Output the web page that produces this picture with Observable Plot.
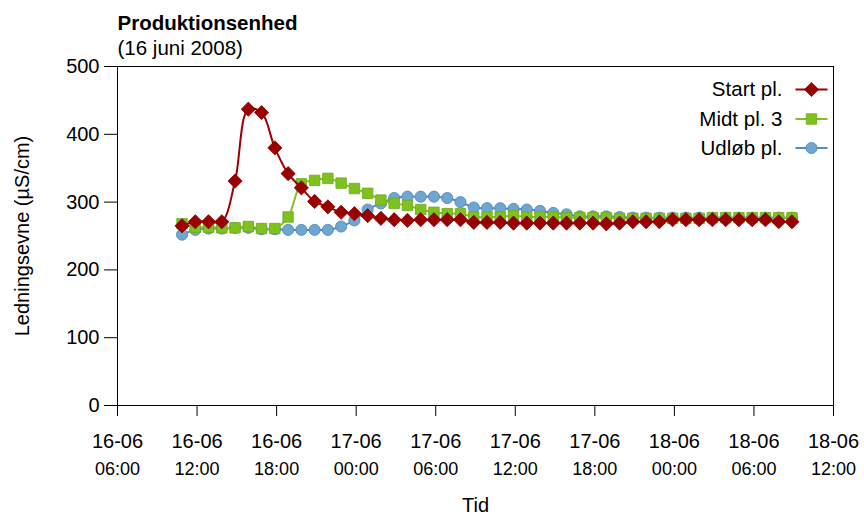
<!DOCTYPE html>
<html>
<head>
<meta charset="utf-8">
<script src="https://cdn.jsdelivr.net/npm/d3@7"></script>
<script src="https://cdn.jsdelivr.net/npm/@observablehq/plot@0.6"></script>
<style>
  html, body { margin: 0; padding: 0; background: #fff; }
  #chart svg { display: block; }
</style>
</head>
<body>
<div id="chart"></div>
<script>
// ---- Data ----
const title = "Produktionsenhed";
const subtitle = "(16 juni 2008)";
const yLabel = "Ledningsevne (µS/cm)";
const xLabel = "Tid";

const times = [
  "2008-06-16T10:52","2008-06-16T11:52","2008-06-16T12:52","2008-06-16T13:52","2008-06-16T14:52",
  "2008-06-16T15:52","2008-06-16T16:52","2008-06-16T17:52","2008-06-16T18:52","2008-06-16T19:52",
  "2008-06-16T20:52","2008-06-16T21:52","2008-06-16T22:52","2008-06-16T23:52",
  "2008-06-17T00:52","2008-06-17T01:52","2008-06-17T02:52","2008-06-17T03:52","2008-06-17T04:52",
  "2008-06-17T05:52","2008-06-17T06:52","2008-06-17T07:52","2008-06-17T08:52","2008-06-17T09:52",
  "2008-06-17T10:52","2008-06-17T11:52","2008-06-17T12:52","2008-06-17T13:52","2008-06-17T14:52",
  "2008-06-17T15:52","2008-06-17T16:52","2008-06-17T17:52","2008-06-17T18:52","2008-06-17T19:52",
  "2008-06-17T20:52","2008-06-17T21:52","2008-06-17T22:52","2008-06-17T23:52",
  "2008-06-18T00:52","2008-06-18T01:52","2008-06-18T02:52","2008-06-18T03:52","2008-06-18T04:52",
  "2008-06-18T05:52","2008-06-18T06:52","2008-06-18T07:52","2008-06-18T08:52"
];

const startPl = [265, 271, 271, 271, 331, 437, 432, 380, 342, 321, 301, 293, 285, 283, 280, 276,
  274, 273, 274, 274, 274, 274, 270, 270, 270, 269, 269, 269, 269, 269, 269, 269,
  268, 269, 271, 271, 271, 274, 274, 274, 274, 274, 274, 274, 274, 271, 271];

const midtPl3 = [268, 263, 263, 262, 262, 264, 261, 261, 278, 327, 332, 335, 328, 320, 313, 303,
  298, 295, 289, 285, 283, 283, 278, 278, 278, 280, 278, 278, 278, 277, 277, 277,
  277, 276, 276, 276, 276, 276, 276, 276, 277, 277, 277, 277, 277, 277, 277];

const udlobPl = [252, 259, 261, 261, 262, 262, 260, 260, 259, 259, 259, 259, 264, 273, 289, 298,
  306, 308, 308, 308, 306, 300, 292, 291, 291, 290, 289, 287, 284, 282, 279, 279,
  279, 278, 277, 277, 277, 277, 277, 277, 277, 277, 277, 277, 277, 277, 277];

const seriesNames = ["Start pl.", "Midt pl. 3", "Udløb pl."];
const xDomain = ["2008-06-16T06:00", "2008-06-18T12:00"];
const yTicks = [0, 100, 200, 300, 400, 500];

// ---- Styles ----
const styles = {
  "Start pl.":  {values: startPl, line: "#9e0000", fill: "#990000", stroke: "#8a0000", symbol: "diamond2", r: 6.4},
  "Midt pl. 3": {values: midtPl3, line: "#80c31f", fill: "#7fc21e", stroke: "#6eaa1a", symbol: "square", r: 5.9},
  "Udløb pl.":  {values: udlobPl, line: "#4f8ec4", fill: "#6fa6d0", stroke: "#4a87bd", symbol: "circle", r: 5.6}
};

const parse = s => new Date(s + ":00Z");
const x0 = parse(xDomain[0]), x1 = parse(xDomain[1]);
const xTicks = d3.utcHour.every(6).range(x0, new Date(+x1 + 1));

const lineSymbol = {draw(ctx) { ctx.moveTo(-16, 0); ctx.lineTo(16, 0); }};

const marks = [];
// draw order: blue, green, red
for (const name of ["Udløb pl.", "Midt pl. 3", "Start pl."]) {
  const s = styles[name];
  const rows = times.map((t, i) => ({t: parse(t), v: s.values[i]}));
  marks.push(Plot.line(rows, {x: "t", y: "v", stroke: s.line, strokeWidth: 2, curve: "catmull-rom"}));
  marks.push(Plot.dot(rows, {x: "t", y: "v", symbol: s.symbol, r: s.r, fill: s.fill, stroke: s.stroke, strokeWidth: 0.8}));
}

// legend
const legendDy = [23, 52.5, 81.5];
seriesNames.forEach((name, i) => {
  const s = styles[name];
  marks.push(Plot.text([name], {frameAnchor: "top-right", dx: -51, dy: legendDy[i], text: d => d, textAnchor: "end", lineAnchor: "middle", fontSize: 20.5, fill: "#000"}));
  marks.push(Plot.dot([name], {frameAnchor: "top-right", dx: -22, dy: legendDy[i], symbol: lineSymbol, stroke: s.line, strokeWidth: 2, fill: "none"}));
  marks.push(Plot.dot([name], {frameAnchor: "top-right", dx: -22, dy: legendDy[i], symbol: s.symbol, r: s.r, fill: s.fill, stroke: s.stroke, strokeWidth: 0.8}));
});

const chart = Plot.plot({
  width: 864,
  height: 517,
  marginTop: 66,
  marginRight: 31,
  marginBottom: 112,
  marginLeft: 117,
  style: {fontFamily: "'Liberation Sans', Arial, Helvetica, sans-serif", fontSize: "20px", color: "#000", background: "#fff"},
  x: {type: "utc", domain: [x0, x1], axis: null},
  y: {domain: [0, 500], axis: null},
  marks: [
    Plot.frame({stroke: "#000", strokeWidth: 1}),
    Plot.axisY({ticks: yTicks, tickSize: 13, tickPadding: 5, fontSize: 20, label: null, stroke: "#000"}),
    Plot.axisX({ticks: xTicks, tickFormat: d3.utcFormat("%d-%m"), tickSize: 11, tickPadding: 17, fontSize: 20, label: null, stroke: "#000"}),
    Plot.axisX({ticks: xTicks, tickFormat: d3.utcFormat("%H:%M"), tickSize: 0, tickPadding: 57, fontSize: 18, label: null}),
    ...marks,
    Plot.text([title], {frameAnchor: "top-left", dy: -43, text: d => d, textAnchor: "start", lineAnchor: "middle", fontWeight: "bold", fontSize: 20.5, fill: "#000"}),
    Plot.text([subtitle], {frameAnchor: "top-left", dy: -18.5, text: d => d, textAnchor: "start", lineAnchor: "middle", fontSize: 20.5, fill: "#000"}),
    Plot.text([yLabel], {frameAnchor: "left", dx: -95, rotate: -90, text: d => d, textAnchor: "middle", lineAnchor: "middle", fontSize: 20, fill: "#000"}),
    Plot.text([xLabel], {frameAnchor: "bottom", dy: 100, text: d => d, textAnchor: "middle", lineAnchor: "middle", fontSize: 20, fill: "#000"})
  ]
});

document.getElementById("chart").appendChild(chart);
</script>
</body>
</html>
